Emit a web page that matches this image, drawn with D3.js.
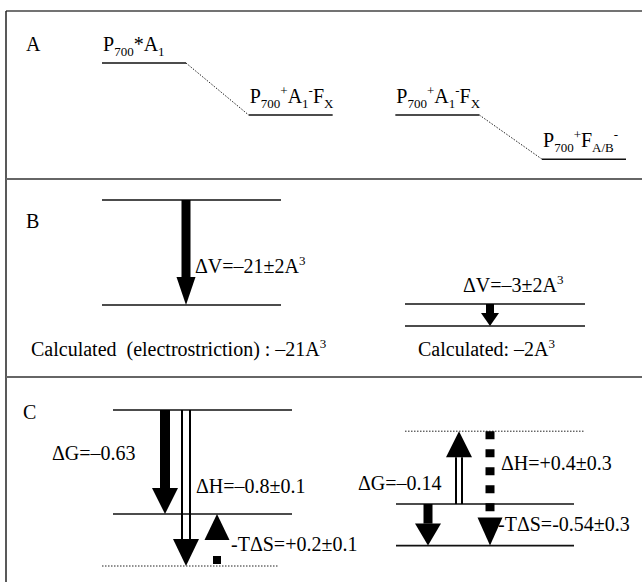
<!DOCTYPE html>
<html>
<head>
<meta charset="utf-8">
<script src="https://cdn.jsdelivr.net/npm/d3@7"></script>
<style>
  body { margin: 0; background: #fff; }
  svg { display: block; }
  text { font-family: "Liberation Serif", serif; font-size: 20px; fill: #000; white-space: pre; }
</style>
</head>
<body>
<svg id="chart" width="642" height="582"></svg>
<script>
// ---- Panel A: electron-transfer steps (schematic energy levels, arbitrary units) ----
const statesA = ["P_{700}*A_{1}", "P_{700}^{+}A_{1}^{-}F_{X}", "P_{700}^{+}A_{1}^{-}F_{X}", "P_{700}^{+}F_{A/B}^{-}"];
const levelA = [0, -1, -1, -1.85];
const stepsA = [[0, 1], [2, 3]];

// ---- Panel B: reaction volumes (schematic level spacing) ----
const volumeLabels = ["ΔV=–21±2A^{3}", "ΔV=–3±2A^{3}"];
const volumeDrop = [2.0, 0.42];
const calculatedLabels = ["Calculated  (electrostriction) : –21A^{3}", "Calculated: –2A^{3}"];

// ---- Panel C: thermodynamic decomposition (schematic level heights) ----
// each step: free-energy level, enthalpy level (relative to the initial state)
const stepNames = ["A1→FX", "FX→FA/B"];
const gLevel = [-2.0, -0.8];
const hLevel = [-3.0, 1.4];
const dGLabels = ["ΔG=–0.63", "ΔG=–0.14"];
const dHLabels = ["ΔH=–0.8±0.1", "ΔH=+0.4±0.3"];
const tdsLabels = ["-TΔS=+0.2±0.1", "-TΔS=-0.54±0.3"];

const svg = d3.select("#chart");
const W = 642, H = 582;
svg.append("rect").attr("width", W).attr("height", H).attr("fill", "#fff");

const FONT = "Liberation Serif";

// rich label: _{..} subscript, ^{..} superscript
function richText(sel, str) {
  const re = /([_^])\{([^}]*)\}|([^_^]+)/g;
  let m, cur = 0;
  while ((m = re.exec(str)) !== null) {
    let txt, size = 20, off = 0;
    if (m[3] !== undefined) { txt = m[3]; }
    else { txt = m[2]; size = 13; off = m[1] === "_" ? 5 : -8; }
    sel.append("tspan").attr("dy", off - cur).attr("font-size", size).text(txt);
    cur = off;
  }
}
function label(g, x, y, str, anchor) {
  const t = g.append("text").attr("x", x).attr("y", y)
    .attr("font-family", FONT)
    .attr("text-anchor", anchor || "start");
  richText(t, str);
  return t;
}

// arrow: solid, hollow (double line) or dashed shaft, filled head
function arrow(g, x, y0, y1, o) {
  const dir = Math.sign(y1 - y0);
  const base = y1 - dir * o.headLen;
  if (o.style === "solid") {
    g.append("rect").attr("x", x - o.shaft / 2).attr("width", o.shaft)
      .attr("y", Math.min(y0, base)).attr("height", Math.abs(base - y0)).attr("fill", "#000");
  } else if (o.style === "hollow") {
    [-1, 1].forEach(s => g.append("line")
      .attr("x1", x + s * (o.shaft / 2 - 1)).attr("x2", x + s * (o.shaft / 2 - 1))
      .attr("y1", y0).attr("y2", base).attr("stroke", "#000").attr("stroke-width", 2));
  } else {
    g.append("line").attr("x1", x).attr("x2", x)
      .attr("y1", y0 + dir * (o.lead || 0)).attr("y2", base - dir * (o.tail || 0))
      .attr("stroke", "#000").attr("stroke-width", o.shaft)
      .attr("stroke-dasharray", "8 10");
  }
  g.append("path")
    .attr("d", `M${x - o.head / 2},${base}L${x + o.head / 2},${base}L${x},${y1}Z`)
    .attr("fill", "#000");
}

function level(g, x0, x1, y, dotted) {
  g.append("line").attr("x1", x0).attr("x2", x1).attr("y1", y).attr("y2", y)
    .attr("stroke", dotted ? "#222" : "#111")
    .attr("stroke-width", dotted ? 1 : 1.6)
    .attr("stroke-dasharray", dotted ? "1.5 1.5" : null);
}

// ---- frame ----
const frame = svg.append("g");
frame.append("line").attr("x1", 6).attr("x2", W).attr("y1", 11).attr("y2", 11).attr("stroke", "#444").attr("stroke-width", 1.5);
frame.append("line").attr("x1", 6).attr("x2", 6).attr("y1", 11).attr("y2", H).attr("stroke", "#222").attr("stroke-width", 1.5);
[179, 377].forEach(y => frame.append("line").attr("x1", 6).attr("x2", W).attr("y1", y).attr("y2", y)
  .attr("stroke", "#666").attr("stroke-width", 2));

// ---- panel A ----
const gA = svg.append("g");
label(gA, 26, 51, "A");
const xA = d3.scaleLinear().domain([0, 3]).range([102, 542]);
const yA = d3.scaleLinear().domain([0, -1]).range([63, 115]);
const wA = 84;
statesA.forEach((s, i) => {
  level(gA, xA(i), xA(i) + wA, yA(levelA[i]), false);
  label(gA, xA(i) + 1, yA(levelA[i]) - 12, s);
});
stepsA.forEach(([a, b]) => {
  gA.append("line").attr("x1", xA(a) + wA).attr("y1", yA(levelA[a]))
    .attr("x2", xA(b)).attr("y2", yA(levelA[b]))
    .attr("stroke", "#222").attr("stroke-width", 1).attr("stroke-dasharray", "1.5 1.5");
});

// ---- panel B ----
const gB = svg.append("g");
label(gB, 26, 228, "B");
const bTop = [200, 304];
const bX = [[102, 281], [405, 585]];
const bArrowX = [186, 490];
const yB = d3.scaleLinear().domain([0, 1]).range([0, 52.5]);
volumeDrop.forEach((d, i) => {
  const y0 = bTop[i], y1 = bTop[i] + yB(d);
  level(gB, bX[i][0], bX[i][1], y0, false);
  level(gB, bX[i][0], bX[i][1], y1, false);
  arrow(gB, bArrowX[i], y0, y1, i === 0
    ? { style: "solid", shaft: 9, head: 19, headLen: 28 }
    : { style: "solid", shaft: 8, head: 18, headLen: 13 });
});
label(gB, 195, 273, volumeLabels[0]);
label(gB, 463, 292, volumeLabels[1]);
label(gB, 31, 356, calculatedLabels[0]);
label(gB, 418, 356, calculatedLabels[1]);

// ---- panel C ----
const gC = svg.append("g");
label(gC, 23, 419, "C");
const yC = [
  d3.scaleLinear().domain([0, -1]).range([410, 462]),
  d3.scaleLinear().domain([0, -1]).range([504, 556])
];
// left step: ΔG and ΔH both downward
{
  const y = yC[0];
  level(gC, 113, 292, y(0), false);
  level(gC, 113, 292, y(gLevel[0]), false);
  level(gC, 102, 278, y(hLevel[0]), true);
  arrow(gC, 165, y(0), y(gLevel[0]), { style: "solid", shaft: 10, head: 26, headLen: 26 });
  arrow(gC, 186, y(0), y(hLevel[0]), { style: "hollow", shaft: 10, head: 26, headLen: 27 });
  arrow(gC, 217, y(hLevel[0]), y(gLevel[0]), { style: "dashed", shaft: 8, head: 25, headLen: 26, lead: 2, tail: 6 });
  label(gC, 52, 460, dGLabels[0]);
  label(gC, 196, 493, dHLabels[0]);
  label(gC, 231, 551, tdsLabels[0]);
}
// right step: ΔH upward, -TΔS downward
{
  const y = yC[1];
  level(gC, 405, 585, y(hLevel[1]), true);
  level(gC, 396, 574, y(0), false);
  level(gC, 396, 574, y(gLevel[1]), false);
  arrow(gC, 428, y(0), y(gLevel[1]), { style: "solid", shaft: 9, head: 26, headLen: 22 });
  arrow(gC, 459, y(0), y(hLevel[1]), { style: "hollow", shaft: 8, head: 26, headLen: 26 });
  arrow(gC, 490, y(hLevel[1]), y(gLevel[1]), { style: "dashed", shaft: 9, head: 25, headLen: 28, lead: 0, tail: 0 });
  label(gC, 358, 490, dGLabels[1]);
  label(gC, 501, 470, dHLabels[1]);
  label(gC, 498, 531, tdsLabels[1]);
}
</script>
</body>
</html>
